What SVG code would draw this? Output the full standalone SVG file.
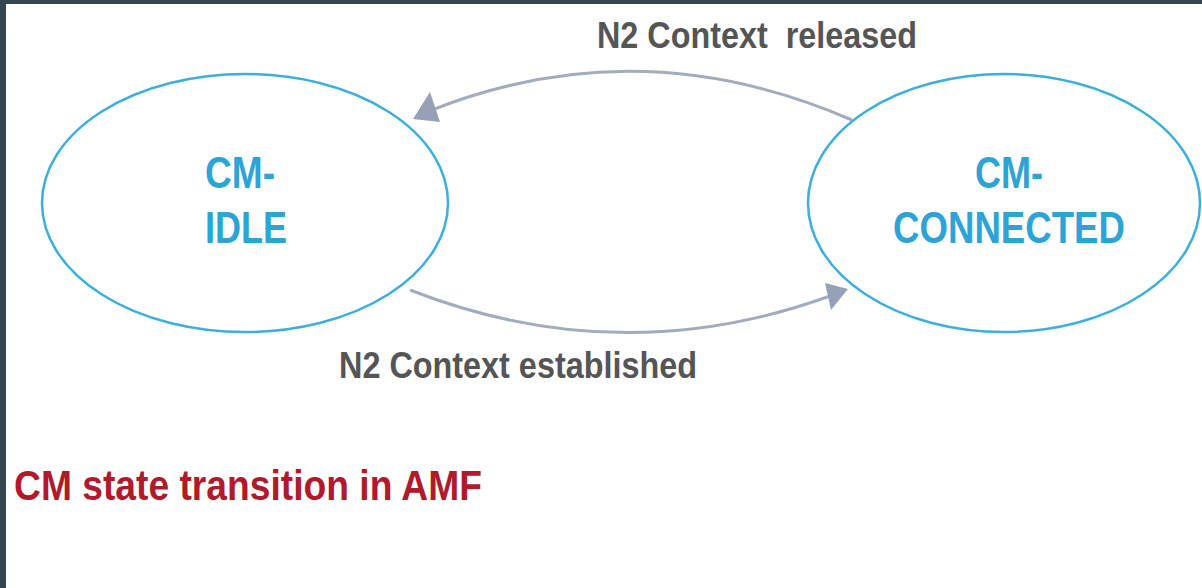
<svg xmlns="http://www.w3.org/2000/svg" width="1202" height="588" viewBox="0 0 1202 588">
  <style>
    .state { fill: #ffffff; stroke: #3eaedd; stroke-width: 2.5; }
    .stateText { font-family: "Liberation Sans", Arial, sans-serif; font-weight: bold; font-size: 44px; fill: #2ea4d6; }
    .edge { fill: none; stroke: #a3acbd; stroke-width: 3; }
    .edgeLabel { font-family: "Liberation Sans", Arial, sans-serif; font-weight: bold; font-size: 37px; fill: #555555; }
    .caption { font-family: "Liberation Sans", Arial, sans-serif; font-weight: bold; font-size: 43px; fill: #b01a2c; }
  </style>
  <rect x="0" y="0" width="1202" height="588" fill="#34464f"/>
  <rect x="6" y="4" width="1196" height="584" fill="#ffffff"/>

  <g id="connectors">
    <path class="edge" d="M852,120 Q640,28 432,110"/>
    <path d="M413,119 L430,92 L440,122 Z" fill="#95a1b6"/>
    <path class="edge" d="M410,290 Q620,372 830,296"/>
    <path d="M848,289 L825,283 L831,310 Z" fill="#95a1b6"/>
    <text class="edgeLabel" x="597" y="48" textLength="320" lengthAdjust="spacingAndGlyphs" xml:space="preserve">N2 Context  released</text>
    <text class="edgeLabel" x="339" y="378" textLength="358" lengthAdjust="spacingAndGlyphs">N2 Context established</text>
  </g>

  <g id="cm-idle">
    <ellipse class="state" cx="245" cy="203" rx="203" ry="129"/>
    <text class="stateText" x="205" y="188" textLength="70" lengthAdjust="spacingAndGlyphs">CM-</text>
    <text class="stateText" x="205" y="243" textLength="82" lengthAdjust="spacingAndGlyphs">IDLE</text>
  </g>

  <g id="cm-connected">
    <ellipse class="state" cx="1004" cy="203" rx="196" ry="129"/>
    <text class="stateText" x="975" y="188" textLength="68" lengthAdjust="spacingAndGlyphs">CM-</text>
    <text class="stateText" x="893" y="243" textLength="232" lengthAdjust="spacingAndGlyphs">CONNECTED</text>
  </g>

  <g id="caption">
    <text class="caption" x="14" y="500" textLength="468" lengthAdjust="spacingAndGlyphs">CM state transition in AMF</text>
  </g>
</svg>
